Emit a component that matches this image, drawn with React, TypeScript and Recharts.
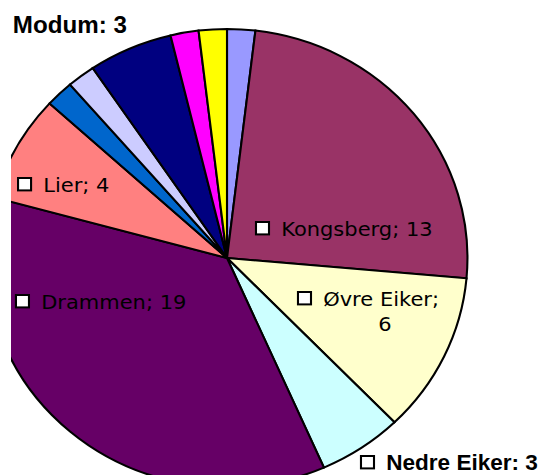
import React from 'react';
import { PieChart, Pie, Cell } from 'recharts';

// slices in drawing order, clockwise from 12 o'clock
const names = ['Hole', 'Kongsberg', 'Øvre Eiker', 'Nedre Eiker', 'Drammen', 'Lier', 'Røyken', 'Hurum', 'Modum', 'Ringerike', 'Sigdal'];
const values = [1, 13, 6, 3, 19, 4, 1, 1, 3, 1, 1];
const colors = ['#9999FF', '#993366', '#FFFFCC', '#CCFFFF', '#660066', '#FF8080', '#0066CC', '#CCCCFF', '#000080', '#FF00FF', '#FFFF00'];

const data = names.map((name, i) => ({ name, value: values[i] }));

const CX = 227;
const CY = 258;
const R = 229;
const STRETCH = 1.05; // old Excel picture is a bit wider than tall

type LabelPos = { dx: number; dy: number; sep: string; box: boolean; bold?: boolean; size?: number; wrap?: number };

// label anchors relative to pie centre (box left / baseline)
const labelPos: Record<string, LabelPos> = {
  Kongsberg: { dx: 27.6, dy: -22, sep: ';', box: true },
  'Øvre Eiker': { dx: 67.6, dy: 48, sep: ';', box: true, wrap: 150.5 },
  'Nedre Eiker': { dx: 127.6, dy: 212, sep: ':', box: true, bold: true, size: 21.5 },
  Drammen: { dx: -201, dy: 51, sep: ';', box: true },
  Lier: { dx: -199, dy: -66, sep: ';', box: true },
  Modum: { dx: -204, dy: -225, sep: ':', box: false, bold: true, size: 23 },
};

const renderLabel = (props: any) => {
  const { cx, cy, name, value } = props;
  const l = labelPos[name];
  if (!l) return null;
  const x = cx + l.dx;
  const y = cy + l.dy;
  const font = l.bold
    ? { fontFamily: '"Liberation Sans", Arial, sans-serif', fontWeight: 700, fontSize: l.size ?? 23 }
    : { fontFamily: '"DejaVu Sans", sans-serif', fontWeight: 400, fontSize: 20 };
  const tx = l.box ? x + 24 : x;
  return (
    <g>
      {l.box && <rect x={x} y={y - 14} width={12.4} height={12.4} fill="#fff" stroke="#000" strokeWidth={2} />}
      {l.wrap ? (
        <>
          <text x={tx} y={y} fill="#000" {...font}>{`${name}${l.sep}`}</text>
          <text x={cx + l.wrap} y={y + 25} fill="#000" textAnchor="middle" {...font}>{value}</text>
        </>
      ) : (
        <text x={tx} y={y} fill="#000" {...font}>{`${name}${l.sep} ${value}`}</text>
      )}
    </g>
  );
};

export default function App() {
  return (
    <div style={{ position: 'fixed', left: 0, top: 0, width: 559, height: 475, background: '#fff', overflow: 'hidden' }}>
      <div style={{ position: 'absolute', left: 11, top: 0, width: 548, height: 475, overflow: 'hidden' }}>
        <div style={{ marginLeft: -11, width: 559, height: 475, transform: `scaleX(${STRETCH})`, transformOrigin: `${CX}px 0` }}>
          <PieChart width={559} height={475} margin={{ top: 0, right: 0, bottom: 0, left: 0 }}>
            <Pie
              data={data}
              dataKey="value"
              nameKey="name"
              cx={CX}
              cy={CY}
              outerRadius={R}
              startAngle={90}
              endAngle={-270}
              stroke="#000"
              strokeWidth={2}
              label={renderLabel}
              labelLine={false}
              isAnimationActive={false}
            >
              {data.map((d, i) => (
                <Cell key={d.name} fill={colors[i]} />
              ))}
            </Pie>
          </PieChart>
        </div>
      </div>
    </div>
  );
}
